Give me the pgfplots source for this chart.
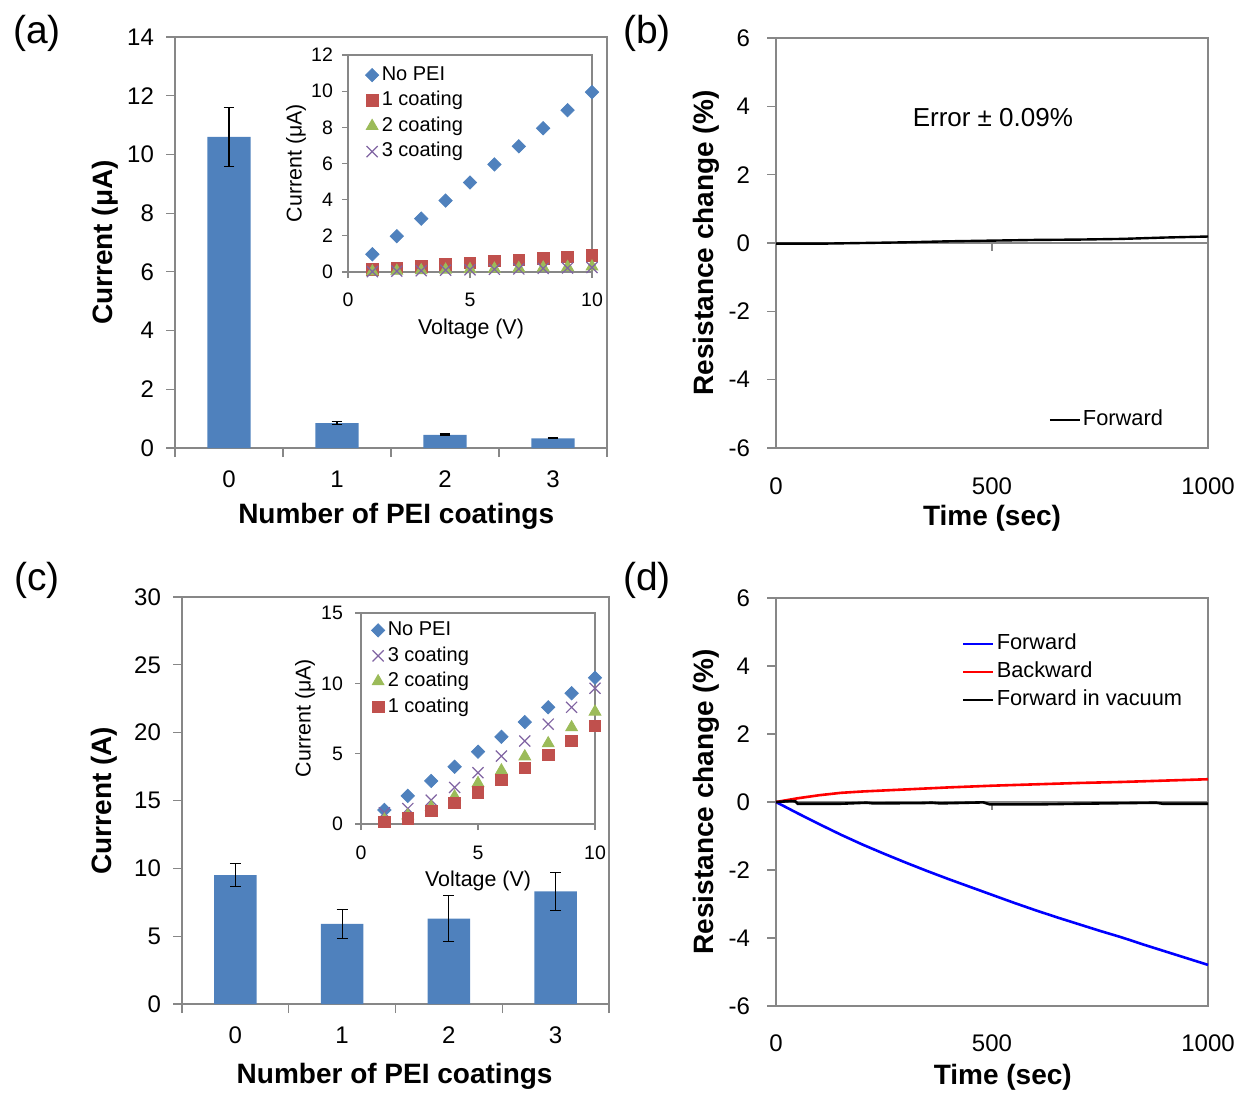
\documentclass[border=0pt]{standalone}
\usepackage{pgfplots}
\pgfplotsset{compat=1.18}
\usepackage{fontspec}
\setmainfont{Liberation Sans}
\definecolor{axgray}{HTML}{878787}
\definecolor{xlblue}{HTML}{4F81BD}
\definecolor{xlred}{HTML}{C0504D}
\definecolor{xlgreen}{HTML}{9BBB59}
\definecolor{xlpurple}{HTML}{8064A2}
\pgfplotsset{
 base/.style={scale only axis, enlargelimits=false, clip=false,
   axis line style={draw=axgray, line width=0.6pt},
   tick style={draw=axgray, line width=0.6pt},
   tick align=outside, xtick pos=bottom, ytick pos=left,
   /pgf/number format/assume math mode=true,
   /pgf/number format/1000 sep={}},
 mainax/.style={base, major tick length=4.5pt,
   tick label style={font=\fontsize{12}{14}\selectfont},
   label style={font=\bfseries\fontsize{14}{16}\selectfont}},
 insetax/.style={base, major tick length=3pt,
   tick label style={font=\fontsize{9.75}{11}\selectfont},
   xticklabel style={yshift=-4pt},
   label style={font=\fontsize{10.7}{12}\selectfont},
   legend style={draw=none, fill=none, font=\fontsize{10}{12}\selectfont, anchor=north west, inner sep=0pt, row sep=0pt, nodes={inner sep=1.5pt, text height=7.5pt, text depth=2.25pt}},
   legend cell align=left,
   legend image code/.code={\draw[mark repeat=1,##1] plot coordinates {(2pt,0pt)};}},
 lineleg/.style={legend cell align=left,
   legend style={draw=none, fill=none, font=\fontsize{10.9}{13}\selectfont, inner sep=0pt, row sep=0pt, nodes={inner sep=1pt, text height=8pt, text depth=2.5pt}},
   legend image code/.code={\draw[##1] (0pt,0pt) -- (15pt,0pt);}},
}
\begin{document}
\begin{tikzpicture}
\path[use as bounding box] (0pt,0pt) rectangle (620pt,-546.5pt);
% panel labels
\node[font=\fontsize{19.5}{22}\selectfont] at (18.5pt,-16.5pt) {(a)};
\node[font=\fontsize{19.5}{22}\selectfont] at (323.5pt,-16.5pt) {(b)};
\node[font=\fontsize{19.5}{22}\selectfont] at (18.5pt,-290pt) {(c)};
\node[font=\fontsize{19.5}{22}\selectfont] at (323.5pt,-290pt) {(d)};

% ---------- (a) ----------
\begin{axis}[mainax, at={(87.5pt,-224pt)}, anchor=south west, width=216pt, height=205.5pt,
  xmin=-0.5, xmax=3.5, ymin=0, ymax=14, ytick={0,2,...,14},
  xtick={0,1,2,3}, major x tick style={draw=none},
  xticklabel style={yshift=-3.5pt}, yticklabel style={xshift=-2.5pt},
  extra x ticks={-0.5,0.5,1.5,2.5,3.5}, extra x tick labels={},
  extra x tick style={major x tick style={draw=axgray, line width=0.6pt}},
  xlabel={Number of PEI coatings}, ylabel={Current (μA)},
  x label style={at={(axis description cs:0.512,-0.1655)}, anchor=center},
  y label style={at={(axis description cs:-0.162,0.5)}, anchor=center}]
\addplot[ybar, bar width=0.4, fill=xlblue, draw=none,
  error bars/.cd, y dir=both, y explicit,
  error bar style={black, line width=0.6pt},
  error mark options={rotate=90, mark size=2.7pt, black, line width=0.6pt}]
  coordinates {(0,10.6) +- (0,1.0) (1,0.85) +- (0,0.05) (2,0.45) +- (0,0.03) (3,0.33) +- (0,0.015)};
\end{axis}

% ---------- inset (a) ----------
\begin{axis}[insetax, at={(174pt,-136pt)}, anchor=south west, width=122pt, height=108.5pt,
  xmin=0, xmax=10, ymin=0, ymax=12, xtick={0,5,10}, ytick={0,2,...,12},
  yticklabel style={xshift=-1pt},
  xlabel={Voltage (V)}, ylabel={Current (μA)},
  x label style={at={(axis description cs:0.504,-0.262)}, anchor=center},
  y label style={at={(axis description cs:-0.213,0.502)}, anchor=center},
  legend style={at={(axis description cs:0.07,0.968)}}]
\addplot[only marks, color=xlblue, mark=square*, mark size=2.35pt, mark options={rotate=45}]
  coordinates {(1,0.98)(2,1.98)(3,2.95)(4,3.95)(5,4.95)(6,5.95)(7,6.95)(8,7.95)(9,8.95)(10,9.95)};
\addlegendentry{No PEI}
\addplot[only marks, color=xlred, mark=square*, mark size=2.9pt]
  coordinates {(1,0.13)(2,0.22)(3,0.31)(4,0.42)(5,0.5)(6,0.61)(7,0.68)(8,0.74)(9,0.83)(10,0.92)};
\addlegendentry{1 coating}
\addplot[only marks, color=xlgreen, mark=triangle*, mark size=3.4pt]
  coordinates {(1,0.03)(2,0.06)(3,0.09)(4,0.12)(5,0.15)(6,0.18)(7,0.21)(8,0.24)(9,0.27)(10,0.3)};
\addlegendentry{2 coating}
\addplot[only marks, color=xlpurple, mark=x, mark size=3.9pt, line width=0.6pt]
  coordinates {(1,0.02)(2,0.05)(3,0.07)(4,0.1)(5,0.12)(6,0.15)(7,0.17)(8,0.2)(9,0.22)(10,0.25)};
\addlegendentry{3 coating}
\end{axis}

% ---------- (b) ----------
\begin{axis}[mainax, lineleg, at={(388pt,-224pt)}, anchor=south west, width=216pt, height=205pt,
  xmin=0, xmax=1000, ymin=-6, ymax=6, ytick={-6,-4,...,6},
  xtick={0,500,1000}, major x tick style={draw=none},
  xticklabel style={yshift=-7pt}, yticklabel style={xshift=-5pt},
  xlabel={Time (sec)}, ylabel={Resistance change (\%)},
  x label style={at={(axis description cs:0.5,-0.171)}, anchor=center},
  y label style={at={(axis description cs:-0.162,0.5)}, anchor=center},
  legend style={at={(axis description cs:0.63,0.068)}, anchor=west}]
\addplot[axgray, line width=0.6pt, forget plot] coordinates {(0,0)(1000,0)};
\addplot[axgray, line width=0.6pt, forget plot] coordinates {(500,0)(500,-0.24)};
\addplot[black, line width=1.2pt] coordinates {(0,-0.02)(100,-0.02)(200,0.0)(300,0.02)(400,0.05)(500,0.07)(600,0.09)(700,0.10)(800,0.12)(900,0.16)(1000,0.19)};
\addlegendentry{Forward}
\node[font=\fontsize{13}{15}\selectfont] at (axis cs:502,3.66) {Error ± 0.09\%};
\end{axis}

% ---------- (c) ----------
\begin{axis}[mainax, at={(91pt,-502pt)}, anchor=south west, width=213.5pt, height=203.5pt,
  xmin=-0.5, xmax=3.5, ymin=0, ymax=30, ytick={0,5,...,30},
  xtick={0,1,2,3}, major x tick style={draw=none},
  xticklabel style={yshift=-3.5pt}, yticklabel style={xshift=-2.5pt},
  extra x ticks={-0.5,0.5,1.5,2.5,3.5}, extra x tick labels={},
  extra x tick style={major x tick style={draw=axgray, line width=0.6pt}},
  xlabel={Number of PEI coatings}, ylabel={Current (A)},
  x label style={at={(axis description cs:0.498,-0.177)}, anchor=center},
  y label style={at={(axis description cs:-0.183,0.5)}, anchor=center}]
\addplot[ybar, bar width=0.4, fill=xlblue, draw=none,
  error bars/.cd, y dir=both, y explicit,
  error bar style={black, line width=0.6pt},
  error mark options={rotate=90, mark size=2.7pt, black, line width=0.6pt}]
  coordinates {(0,9.5) +- (0,0.86) (1,5.9) +- (0,1.07) (2,6.3) +- (0,1.7) (3,8.3) +- (0,1.4)};
\end{axis}

% ---------- inset (c) ----------
\begin{axis}[insetax, at={(180.5pt,-412pt)}, anchor=south west, width=117pt, height=105.5pt,
  xmin=0, xmax=10, ymin=0, ymax=15, xtick={0,5,10}, ytick={0,5,10,15},
  yticklabel style={xshift=-2.5pt}, xticklabel style={yshift=-0.5pt},
  xlabel={Voltage (V)}, ylabel={Current (μA)},
  x label style={at={(axis description cs:0.5,-0.27)}, anchor=center},
  y label style={at={(axis description cs:-0.239,0.502)}, anchor=center},
  legend style={at={(axis description cs:0.043,0.98)}}]
\addplot[only marks, color=xlblue, mark=square*, mark size=2.35pt, mark options={rotate=45}]
  coordinates {(1,1.0)(2,2.0)(3,3.06)(4,4.07)(5,5.14)(6,6.2)(7,7.25)(8,8.3)(9,9.3)(10,10.4)};
\addlegendentry{No PEI}
\addplot[only marks, color=xlpurple, mark=x, mark size=3.9pt, line width=0.6pt]
  coordinates {(1,0.8)(2,1.1)(3,1.7)(4,2.6)(5,3.65)(6,4.83)(7,5.9)(8,7.1)(9,8.3)(10,9.65)};
\addlegendentry{3 coating}
\addplot[only marks, color=xlgreen, mark=triangle*, mark size=3.4pt]
  coordinates {(1,0.3)(2,0.6)(3,1.2)(4,1.95)(5,2.9)(6,3.8)(7,4.8)(8,5.73)(9,6.87)(10,7.98)};
\addlegendentry{2 coating}
\addplot[only marks, color=xlred, mark=square*, mark size=2.9pt]
  coordinates {(1,0.16)(2,0.4)(3,0.92)(4,1.5)(5,2.25)(6,3.13)(7,4.0)(8,4.9)(9,5.92)(10,6.97)};
\addlegendentry{1 coating}
\end{axis}

% ---------- (d) ----------
\begin{axis}[mainax, lineleg, at={(388pt,-503pt)}, anchor=south west, width=216pt, height=204pt,
  xmin=0, xmax=1000, ymin=-6, ymax=6, ytick={-6,-4,...,6},
  xtick={0,500,1000}, major x tick style={draw=none},
  xticklabel style={yshift=-6.5pt}, yticklabel style={xshift=-5pt},
  xlabel={Time (sec)}, ylabel={Resistance change (\%)},
  x label style={at={(axis description cs:0.525,-0.174)}, anchor=center},
  y label style={at={(axis description cs:-0.162,0.5)}, anchor=center},
  legend style={at={(axis description cs:0.43,0.919)}, anchor=north west, row sep=1.5pt}]
\addplot[axgray, line width=0.6pt, forget plot] coordinates {(0,0)(1000,0)};
\addplot[axgray, line width=0.6pt, forget plot] coordinates {(500,0)(500,-0.24)};
\addplot[blue, line width=1.3pt] coordinates {(0,0)(50,-0.33)(100,-0.65)(150,-0.96)(200,-1.25)(250,-1.52)(300,-1.78)(350,-2.03)(400,-2.27)(450,-2.50)(500,-2.73)(550,-2.96)(600,-3.18)(650,-3.39)(700,-3.59)(750,-3.79)(800,-3.98)(850,-4.19)(900,-4.39)(950,-4.59)(1000,-4.79)};
\addlegendentry{Forward}
\addplot[red, line width=1.3pt] coordinates {(0,0)(50,0.11)(100,0.2)(150,0.27)(200,0.31)(300,0.37)(400,0.43)(500,0.48)(600,0.52)(700,0.56)(800,0.59)(900,0.63)(1000,0.67)};
\addlegendentry{Backward}
\addplot[black, line width=1.3pt] coordinates {(0,0)(35,0.03)(45,0.02)(50,-0.05)(150,-0.05)(210,-0.02)(225,-0.04)(340,-0.03)(360,-0.02)(380,-0.04)(480,-0.01)(495,-0.07)(600,-0.07)(700,-0.05)(880,-0.02)(895,-0.05)(1000,-0.05)};
\addlegendentry{Forward in vacuum}
\end{axis}
\end{tikzpicture}
\end{document}
